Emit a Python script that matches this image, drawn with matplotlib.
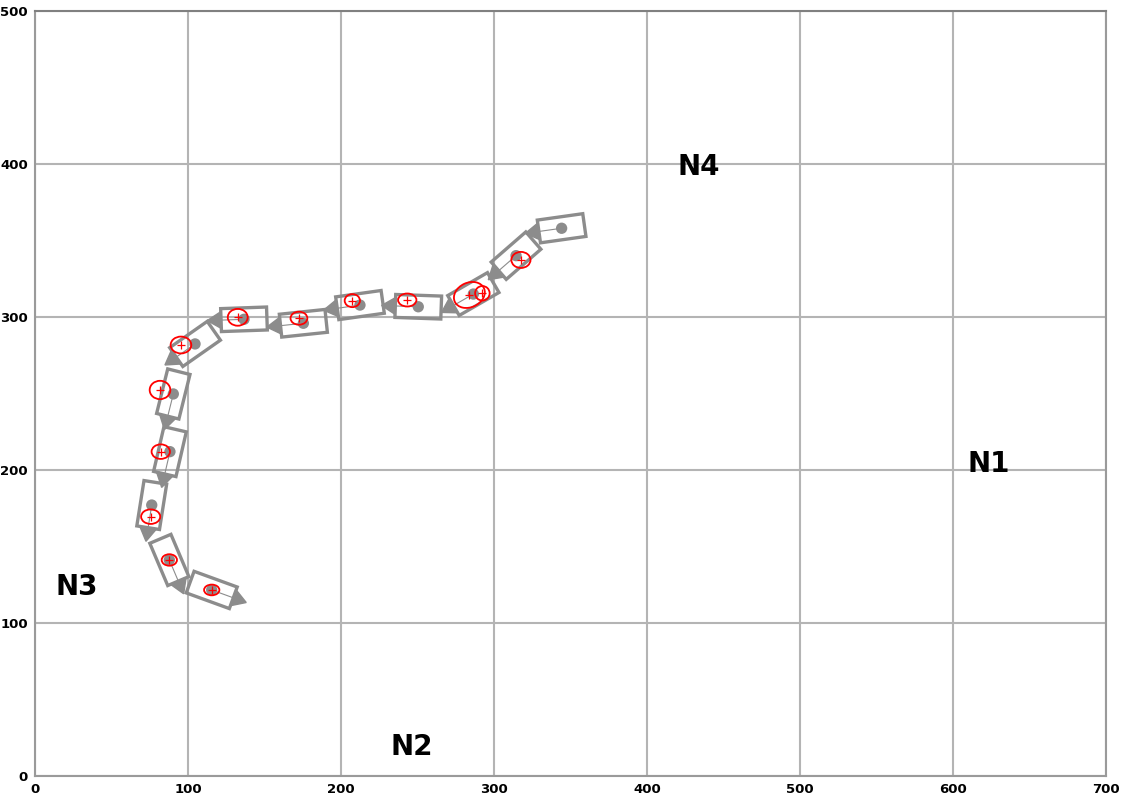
import numpy as np
import matplotlib
matplotlib.use('Agg')
import matplotlib.pyplot as plt
from matplotlib.patches import Polygon, Ellipse, Circle

# Robot poses (true): x, y, heading (deg)
pose_x = [344.2, 314.4, 286.5, 250.5, 212.4, 175.4, 136.6, 104.6, 90.4, 88.2, 76.3, 87.8, 115.5]
pose_y = [358.0, 340.1, 315.0, 306.7, 307.8, 295.9, 298.5, 282.4, 249.7, 212.0, 177.1, 141.2, 121.6]
pose_theta = [188, 221, 210, 178, 188, 186, 182, 215, 256, 257, 261, 293, 340]

# Estimated poses (red ellipses): centre, width, height, angle
est_x = [317.6, 283.9, 292.4, 243.3, 207.4, 172.5, 132.5, 95.4, 81.7, 82.2, 75.6, 87.8, 115.5]
est_y = [337.3, 314.4, 315.5, 311.1, 310.7, 299.2, 299.8, 281.7, 252.3, 212.0, 169.5, 141.2, 121.6]
est_w = [12.5, 21.0, 9.5, 12.0, 10.0, 11.0, 13.0, 13.5, 13.5, 12.0, 12.5, 10.0, 10.0]
est_h = [10.5, 16.0, 9.5, 8.5, 8.5, 8.5, 11.0, 11.0, 12.0, 9.5, 9.5, 7.5, 7.0]
est_angle = [0, 25, 0, 0, 0, 0, 0, 0, 0, 0, 0, 0, 0]

# Node labels
node_names = ['N4', 'N1', 'N3', 'N2']
node_x = [434, 623, 27, 246]
node_y = [398, 204, 123.5, 19]

xticks = [0, 100, 200, 300, 400, 500, 600, 700]
yticks = [0, 100, 200, 300, 400, 500]

GRAY = '#8c8c8c'
ROBOT_L, ROBOT_W = 30.0, 15.0
TRI_L, TRI_HW = 9.0, 5.5

fig = plt.figure(figsize=(11.24, 7.94), dpi=100)
ax = fig.add_axes([35 / 1124, 18 / 794, 1071 / 1124, 765 / 794])
ax.set_xlim(0, 700)
ax.set_ylim(0, 500)
ax.set_xticks(xticks)
ax.set_yticks(yticks)
ax.grid(True, color='#b4b4b4', lw=1.5)
ax.set_axisbelow(True)
for s in ax.spines.values():
    s.set_color('#9a9a9a')
    s.set_linewidth(1.5)
ax.spines['top'].set_color('#808080')
ax.tick_params(length=0, pad=5, labelsize=9.5)
for lab in ax.get_xticklabels() + ax.get_yticklabels():
    lab.set_fontweight('bold')

for x, y, th in zip(pose_x, pose_y, pose_theta):
    t = np.radians(th)
    u = np.array([np.cos(t), np.sin(t)])
    v = np.array([-np.sin(t), np.cos(t)])
    c = np.array([x, y])
    hl, hw = ROBOT_L / 2, ROBOT_W / 2
    corners = [c + hl * u + hw * v, c - hl * u + hw * v, c - hl * u - hw * v, c + hl * u - hw * v]
    ax.add_patch(Polygon(corners, closed=True, fill=False, ec=GRAY, lw=2.4, zorder=3))
    front = c + hl * u
    tri = [front + TRI_HW * v, front - TRI_HW * v, front + TRI_L * u]
    ax.add_patch(Polygon(tri, closed=True, fc=GRAY, ec=GRAY, lw=1, zorder=3))
    ax.plot([c[0], front[0]], [c[1], front[1]], color=GRAY, lw=0.8, zorder=3)
    ax.add_patch(Circle(c, 3.7, fc=GRAY, ec='none', zorder=4))

for x, y, w, h, a in zip(est_x, est_y, est_w, est_h, est_angle):
    ax.add_patch(Ellipse((x, y), w, h, angle=a, fill=False, ec='red', lw=1.3, zorder=5))
    ax.plot(x, y, marker='+', color='red', ms=5.5, mew=0.9, zorder=6)

for name, x, y in zip(node_names, node_x, node_y):
    ax.text(x, y, name, fontsize=20, fontweight='bold', ha='center', va='center', zorder=7)

fig.savefig('out.png', dpi=100)
